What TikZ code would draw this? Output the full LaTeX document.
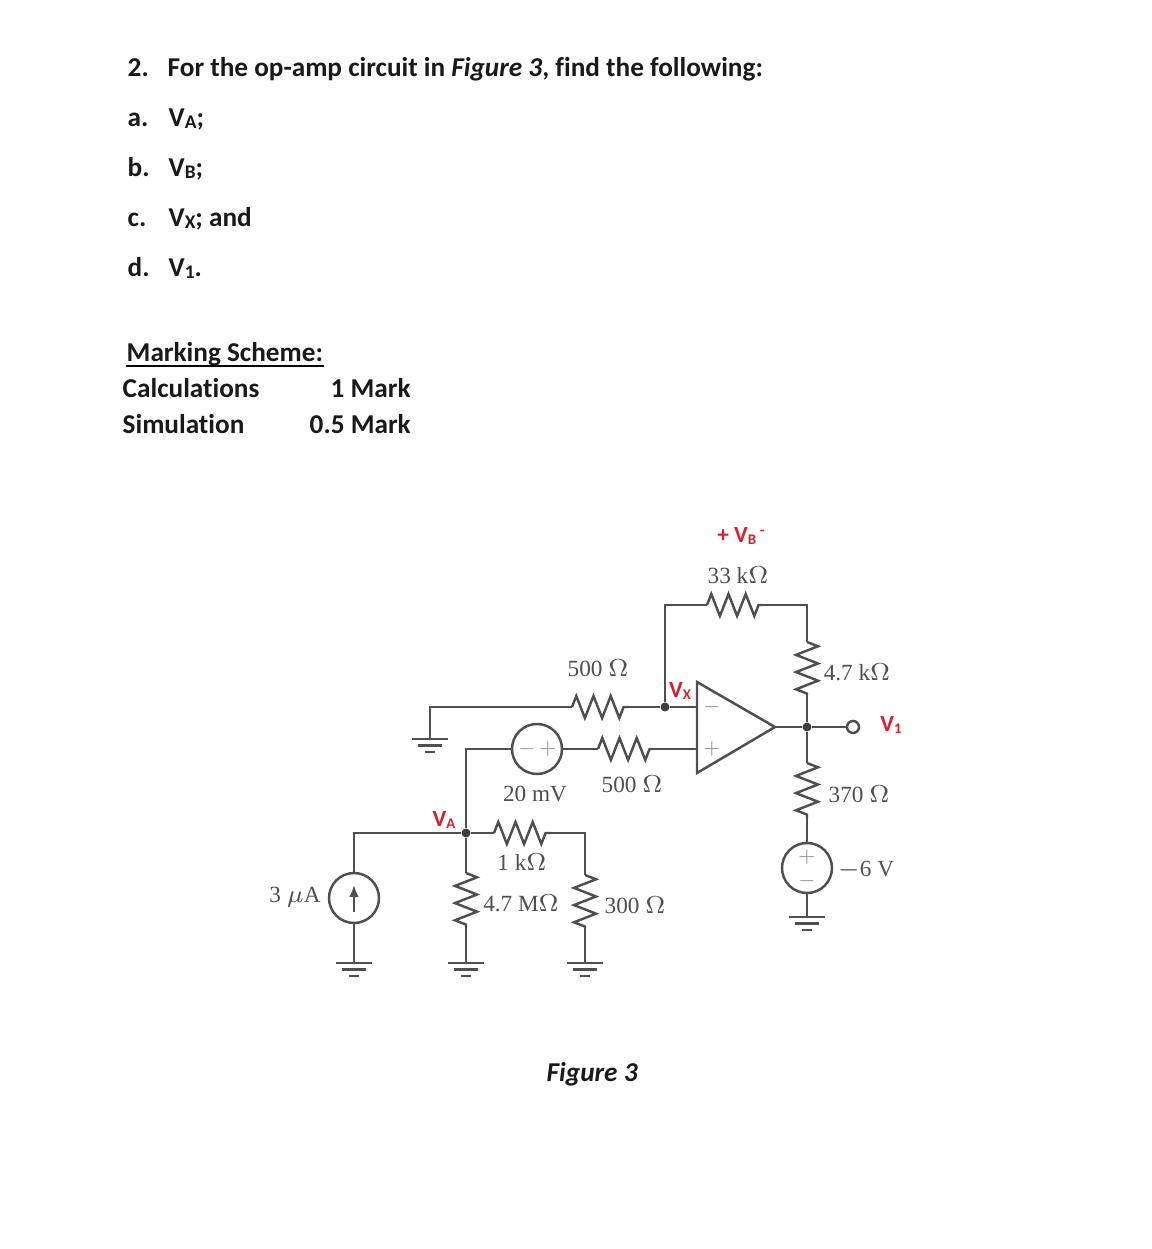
\documentclass[tikz,border=0pt]{standalone}
\usepackage{fontspec}
\setmainfont{Carlito}[RawFeature={-liga;-dlig}]
\newfontfamily\valuefont{Liberation Serif}
\usetikzlibrary{decorations.pathmorphing,arrows.meta}
\definecolor{wirecol}{HTML}{4F4F4F}
\definecolor{redcol}{HTML}{D9202E}
\newcommand{\lowtext}[1]{\raisebox{-0.12ex}{\fontsize{5.5}{6}\selectfont #1}}
\newcommand{\redsub}[1]{\raisebox{-0.25ex}{\fontsize{4.2}{5}\selectfont #1}}
\tikzset{
  qtext/.style={anchor=base west, inner sep=0pt, font=\fontsize{7.75}{9}\selectfont\bfseries, text=black!90},
  val/.style={inner sep=0pt, font=\fontsize{6.6}{8}\selectfont\valuefont, text=wirecol},
  redlab/.style={inner sep=0pt, font=\fontsize{6.6}{8}\selectfont\bfseries, text=redcol},
  sign/.style={inner sep=0pt, font=\fontsize{3.8}{5}\selectfont, text=wirecol!60},
  wire/.style={draw=wirecol, line width=0.7pt},
  res/.style={wire, decorate, decoration={zigzag, segment length=0.172cm, amplitude=0.11cm}},
  src/.style={circle, wire, minimum size=0.5cm, inner sep=0pt},
  dot/.style={circle, fill=wirecol!80!black, minimum size=0.09cm, inner sep=0pt},
  gnd/.pic={\draw[wire] (-0.18,0) -- (0.18,0);
            \draw[wire] (-0.12,-0.065) -- (0.12,-0.065);
            \draw[wire] (-0.05,-0.13) -- (0.05,-0.13);}
}
\begin{document}
\begin{tikzpicture}
\useasboundingbox (0,0) rectangle (11.52,12.49);
%%%%%%%%%%%%%%%%%%%%%%%%%%%%%%% Question text
\node[qtext](qNum) at (1.27,11.72){2.};
\node[qtext](qMain) at (1.67,11.72){For the op-amp circuit in \textit{Figure 3}, find the following:};
\node[qtext](qA) at (1.27,11.22){a.};
\node[qtext](qAv) at (1.68,11.22){V\lowtext{A};};
\node[qtext](qB) at (1.27,10.72){b.};
\node[qtext](qBv) at (1.68,10.72){V\lowtext{B};};
\node[qtext](qC) at (1.27,10.22){c.};
\node[qtext](qCv) at (1.68,10.22){V\lowtext{X}; and};
\node[qtext](qD) at (1.27,9.72){d.};
\node[qtext](qDv) at (1.68,9.72){V\lowtext{1}.};
%%%%%%%%%%%%%%%%%%%%%%%%%%%%%%% Marking scheme
\node[qtext](msHead) at (1.26,8.87){Marking Scheme:};
\draw[black, line width=0.55pt] ([yshift=-0.04cm]msHead.base west) -- ([yshift=-0.04cm]msHead.base east);
\node[qtext](msCalc) at (1.22,8.51){Calculations};
\node[qtext](msCalcM) at (3.30,8.51){1 Mark};
\node[qtext](msSim) at (1.22,8.15){Simulation};
\node[qtext](msSimM) at (3.09,8.15){0.5 Mark};
\node[qtext](figCap) at (5.46,1.68){\textit{Figure 3}};
%%%%%%%%%%%%%%%%%%%%%%%%%%%%%%% Op-amp
\coordinate (opTop) at (6.97,5.67);
\coordinate (opBot) at (6.97,4.76);
\coordinate (opTip) at (7.75,5.22);
\coordinate (opMinus) at (6.97,5.42);
\coordinate (opPlus) at (6.97,5.00);
\draw[wire, line join=miter] (opTop) -- (opTip) -- (opBot) -- cycle;
\node[sign](opMinusS) at (7.12,5.42){$-$};
\node[sign](opPlusS) at (7.12,5.00){$+$};
%%%%%%%%%%%%%%%%%%%%%%%%%%%%%%% Feedback loop
\node[dot](nVx) at (6.65,5.42){};
\node[dot](nOut) at (8.07,5.22){};
\coordinate (fbLeft) at (6.65,6.44);
\coordinate (fbRight) at (8.07,6.44);
\coordinate (r33a) at (7.07,6.44);
\coordinate (r33b) at (7.63,6.44);
\coordinate (r47a) at (8.07,6.07);
\coordinate (r47b) at (8.07,5.54);
\draw[wire] (nVx) -- (fbLeft) -- (r33a);
\draw[res] (r33a) -- (r33b);
\draw[wire] (r33b) -- (fbRight) -- (r47a);
\draw[res] (r47a) -- (r47b);
\draw[wire] (r47b) -- (nOut);
\draw[wire] (nVx) -- (opMinus);
\draw[wire] (opTip) -- (nOut);
\node[circle, wire, minimum size=0.12cm, inner sep=0pt](outTerm) at (8.53,5.22){};
\draw[wire] (nOut) -- (outTerm);
%%%%%%%%%%%%%%%%%%%%%%%%%%%%%%% Inverting input
\coordinate (gndInv) at (4.30,5.10);
\coordinate (invCorner) at (4.30,5.42);
\coordinate (r500a) at (5.72,5.42);
\coordinate (r500b) at (6.28,5.42);
\draw[wire] (gndInv) -- (invCorner) -- (r500a);
\draw[res] (r500a) -- (r500b);
\draw[wire] (r500b) -- (nVx);
\pic at (gndInv) {gnd};
%%%%%%%%%%%%%%%%%%%%%%%%%%%%%%% Non-inverting input
\node[src](srcMv) at (5.37,5.00){};
\node[sign](srcMvM) at (5.27,5.00){$-$};
\node[sign](srcMvP) at (5.48,5.00){$+$};
\coordinate (r500c) at (5.98,5.00);
\coordinate (r500d) at (6.53,5.00);
\draw[wire] (srcMv) -- (r500c);
\draw[res] (r500c) -- (r500d);
\draw[wire] (r500d) -- (opPlus);
\node[dot](nVa) at (4.66,4.16){};
\coordinate (mvCorner) at (4.66,5.00);
\draw[wire] (nVa) -- (mvCorner) -- (srcMv);
%%%%%%%%%%%%%%%%%%%%%%%%%%%%%%% Output divider
\coordinate (r370a) at (8.07,4.86);
\coordinate (r370b) at (8.07,4.31);
\node[src](srcNeg) at (8.07,3.81){};
\node[sign](srcNegP) at (8.07,3.92){$+$};
\node[sign](srcNegM) at (8.07,3.68){$-$};
\coordinate (gndNeg) at (8.07,3.32);
\draw[wire] (nOut) -- (r370a);
\draw[res] (r370a) -- (r370b);
\draw[wire] (r370b) -- (srcNeg);
\draw[wire] (srcNeg) -- (gndNeg);
\pic at (gndNeg) {gnd};
%%%%%%%%%%%%%%%%%%%%%%%%%%%%%%% Input network
\node[src](srcCur) at (3.54,3.51){};
\coordinate (curCorner) at (3.54,4.16);
\coordinate (curTail) at (3.54,3.37);
\coordinate (curHead) at (3.54,3.64);
\coordinate (gndCur) at (3.54,2.86);
\draw[wire] (srcCur) -- (curCorner) -- (nVa);
\draw[wire] (srcCur) -- (gndCur);
\draw[wire, -{Latex[length=1.2mm,width=1mm]}] (curTail) -- (curHead);
\pic at (gndCur) {gnd};
\coordinate (r47Ma) at (4.66,3.76);
\coordinate (r47Mb) at (4.66,3.22);
\coordinate (gndM) at (4.66,2.86);
\draw[wire] (nVa) -- (r47Ma);
\draw[res] (r47Ma) -- (r47Mb);
\draw[wire] (r47Mb) -- (gndM);
\pic at (gndM) {gnd};
\coordinate (r1ka) at (4.94,4.16);
\coordinate (r1kb) at (5.51,4.16);
\coordinate (r1kCorner) at (5.85,4.16);
\coordinate (r300a) at (5.85,3.74);
\coordinate (r300b) at (5.85,3.21);
\coordinate (gnd300) at (5.85,2.86);
\draw[wire] (nVa) -- (r1ka);
\draw[res] (r1ka) -- (r1kb);
\draw[wire] (r1kb) -- (r1kCorner) -- (r300a);
\draw[res] (r300a) -- (r300b);
\draw[wire] (r300b) -- (gnd300);
\pic at (gnd300) {gnd};
%%%%%%%%%%%%%%%%%%%%%%%%%%%%%%% Values
\node[val](l33k) at (7.38,6.74){33 k$\Omega$};
\node[val](l500a) at (5.98,5.81){500 $\Omega$};
\node[val](l47k) at (8.57,5.77){4.7 k$\Omega$};
\node[val](l370) at (8.59,4.55){370 $\Omega$};
\node[val](l20mV) at (5.35,4.55){20 mV};
\node[val](l500b) at (6.32,4.65){500 $\Omega$};
\node[val](l1k) at (5.22,3.87){1 k$\Omega$};
\node[val](l47M) at (5.21,3.46){4.7 M$\Omega$};
\node[val](l300) at (6.35,3.44){300 $\Omega$};
\node[val](lNeg) at (8.66,3.79){$-$6 V};
\node[val](l3uA) at (2.95,3.52){3 $\mu$A};
%%%%%%%%%%%%%%%%%%%%%%%%%%%%%%% Red labels
\node[redlab](lVb) at (7.41,7.13){+ V\redsub{B}\,\raisebox{0.55ex}{\fontsize{4.5}{5}\selectfont -}};
\node[redlab](lVx) at (6.80,5.58){V\redsub{X}};
\node[redlab](lV1) at (8.91,5.24){V\redsub{1}};
\node[redlab](lVa) at (4.44,4.29){V\redsub{A}};
\end{tikzpicture}
\end{document}
